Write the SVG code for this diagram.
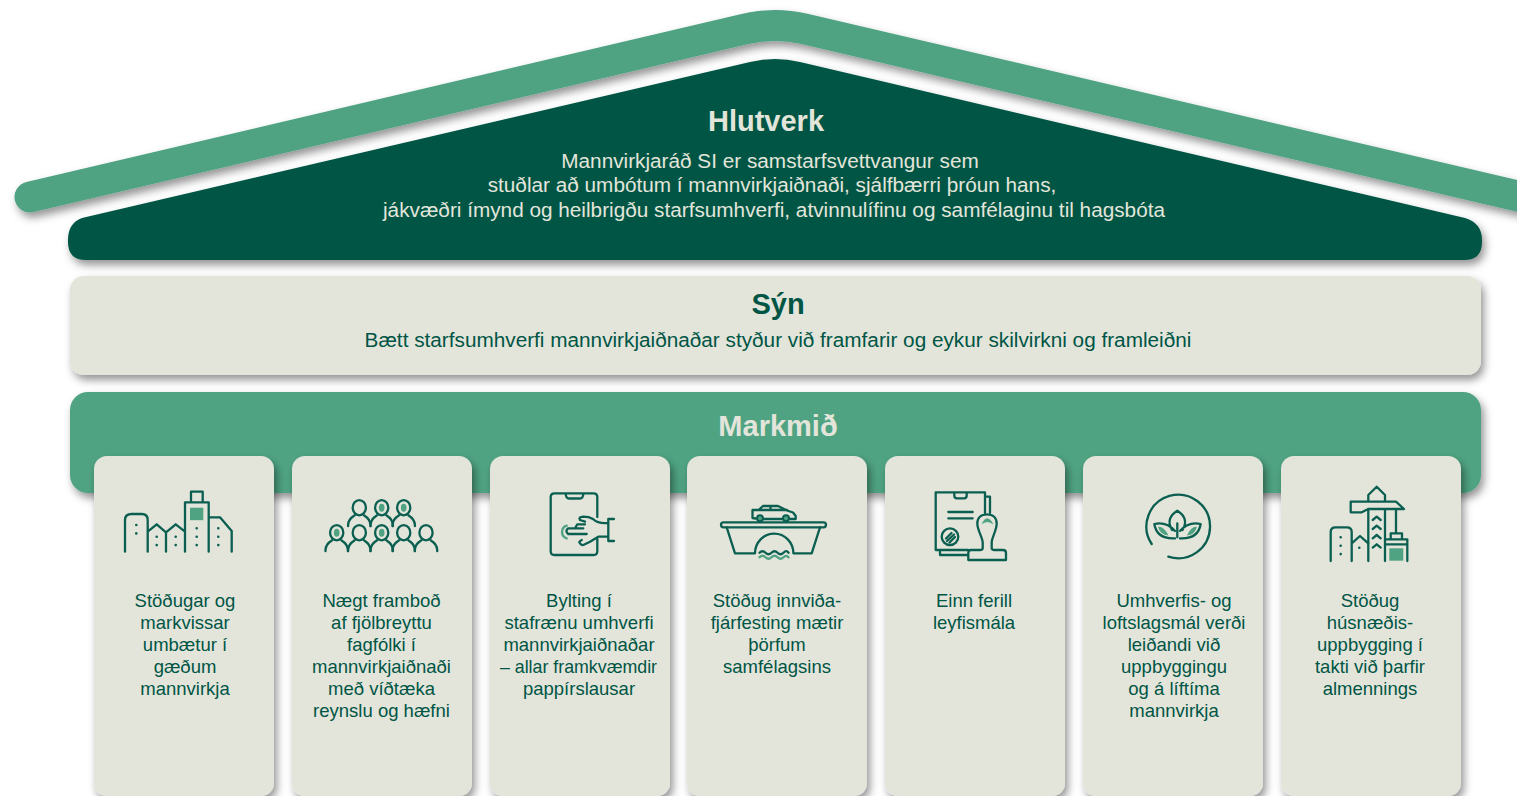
<svg xmlns="http://www.w3.org/2000/svg" xmlns:xlink="http://www.w3.org/1999/xlink" width="1517" height="796" viewBox="0 0 1517 796">
<style>
text{font-family:"Liberation Sans",Arial,sans-serif;text-anchor:middle}
.h{font-size:29px;font-weight:700}
.b{font-size:20.75px}
.c{font-size:18.5px;fill:#005545}
.light{fill:#e3e5db}
.dark{fill:#005545}
.card{fill:#e3e5db;filter:url(#sh)}
.i{fill:none;stroke:#0b5f50;stroke-width:2.3;stroke-linecap:round;stroke-linejoin:round}
.d{fill:none;stroke:#0b5f50;stroke-width:2.6;stroke-linecap:round;stroke-dasharray:0 8.4}
.g{fill:#4fa383;stroke:none}
.gl{fill:none;stroke:#4fa383;stroke-width:2.3;stroke-linecap:round}
</style>
<defs>
<filter id="sh" x="-10%" y="-20%" width="120%" height="140%">
<feDropShadow dx="3" dy="5" stdDeviation="4.5" flood-color="#000" flood-opacity="0.42"/>
</filter>
<g id="person"><ellipse cx="0" cy="0" rx="6.6" ry="7.6" class="i"/><path class="i" d="M-11.2,18.5V17Q-11,11.5-4.6,7.5M11.2,18.5V17Q11,11.5,4.6,7.5"/></g>
</defs>

<g id="roof">
<path d="M30,197L745,29Q775,22,805,29L1530,199" fill="none" stroke="#4fa383" stroke-width="31" stroke-linecap="round" filter="url(#sh)"/>
</g>
<g id="hlutverk">
<path d="M82,218L750,62Q775,56,800,62L1465,218Q1482,223,1482,240V242Q1482,260,1464,260H86Q68,260,68,242V240Q68,223,82,218Z" fill="#005545" filter="url(#sh)"/>
<text x="766" y="131" class="h light">Hlutverk</text>
<text x="770" y="168" class="b light">Mannvirkjaráð SI er samstarfsvettvangur sem</text>
<text x="772" y="192" class="b light">stuðlar að umbótum í mannvirkjaiðnaði, sjálfbærri þróun hans,</text>
<text x="774" y="217" class="b light">jákvæðri ímynd og heilbrigðu starfsumhverfi, atvinnulífinu og samfélaginu til hagsbóta</text>
</g>
<g id="syn">
<rect x="70" y="276" width="1411" height="99" rx="14" fill="#e3e5db" filter="url(#sh)"/>
<text x="778" y="314" class="h dark">Sýn</text>
<text x="778" y="347" class="b dark">Bætt starfsumhverfi mannvirkjaiðnaðar styður við framfarir og eykur skilvirkni og framleiðni</text>
</g>
<g id="markmid">
<rect x="70" y="392" width="1411" height="101" rx="18" fill="#4fa383" filter="url(#sh)"/>
<text x="778" y="436" class="h light">Markmið</text>
</g>

<g id="card1">
<rect class="card" x="94" y="456" width="180" height="340" rx="13"/>
<path class="i" d="M125,551.7V520Q125,514,131.7,514H141.7Q147.7,514,147.7,520V551.7M147.7,531.7L156.7,524.3L166,532.3L175.7,524.3L185,531.7M166,532.3V551.7M185,551.7V502.3H208.7V551.7M191,502.3V491.7H202.7V502.3M208.7,517.3H220L231.7,531V551.7"/>
<rect class="g" x="190" y="507.7" width="13.3" height="12.5"/>
<path class="d" d="M136.3,525V534M156.7,536.7V546M175.7,536.7V546M196.7,528.3V546M218.3,528.3V546"/>
<text class="c" x="185" y="607">Stöðugar og</text><text class="c" x="185" y="629">markvissar</text><text class="c" x="185" y="651">umbætur í</text><text class="c" x="185" y="673">gæðum</text><text class="c" x="185" y="695">mannvirkja</text>
</g>
<g id="card2">
<rect class="card" x="292" y="456" width="180" height="340" rx="13"/>
<use xlink:href="#person" x="359.3" y="507.7"/><use xlink:href="#person" x="381.7" y="507.7"/><use xlink:href="#person" x="403.7" y="507.7"/>
<use xlink:href="#person" x="336.7" y="532.7"/><use xlink:href="#person" x="359.3" y="532.7"/><use xlink:href="#person" x="381.7" y="532.7"/><use xlink:href="#person" x="403.7" y="532.7"/><use xlink:href="#person" x="426" y="532.7"/>
<ellipse class="g" cx="381.7" cy="507.7" rx="2.8" ry="4"/><ellipse class="g" cx="403.7" cy="507.7" rx="2.8" ry="4"/><ellipse class="g" cx="336.7" cy="532.7" rx="2.8" ry="4"/><ellipse class="g" cx="381.7" cy="532.7" rx="2.8" ry="4"/>
<text class="c" x="381.5" y="607">Nægt framboð</text><text class="c" x="381.5" y="629">af fjölbreyttu</text><text class="c" x="381.5" y="651">fagfólki í</text><text class="c" x="381.5" y="673">mannvirkjaiðnaði</text><text class="c" x="381.5" y="695">með víðtæka</text><text class="c" x="381.5" y="717">reynslu og hæfni</text>
</g>
<g id="card3">
<rect class="card" x="490" y="456" width="180" height="340" rx="13"/>
<path class="i" d="M597.3,517V497Q597.3,493.3,593.6,493.3H554.4Q550.7,493.3,550.7,497V551.3Q550.7,555,554.4,555H593.6Q597.3,555,597.3,551.3V539M565.7,494Q566,498.5,569,498.5H580Q583,498.5,583.3,494"/>
<path class="i" d="M608.3,519V541M608.3,519H614M608.3,541H614M608.3,523Q598,524,593,519Q589,516.7,583.3,516.7Q578,517,580,520L585,521.7M585,524.3H577.3L575,528.3H583.3M575,528.3H568.3Q564.5,531,568.3,534H586.7M581.7,540Q578,542,580,543.3Q581,545.5,583.3,545L590,541.7L598.3,536.7H608.3"/>
<path class="gl" d="M566.7,525.7A6.6,6.6,0,0,0,566.7,538.3"/>
<text class="c" x="579" y="607">Bylting í</text><text class="c" x="579" y="629">stafrænu umhverfi</text><text class="c" x="579" y="651">mannvirkjaiðnaðar</text><text class="c" x="578.5" y="673" style="font-size:17.8px">– allar framkvæmdir</text><text class="c" x="579" y="695">pappírslausar</text>
</g>
<g id="card4">
<rect class="card" x="687" y="456" width="180" height="340" rx="13"/>
<rect class="i" x="721" y="522.3" width="105" height="5" rx="2.5"/>
<path class="i" d="M726.7,527.3L735,553.3H755A19.2,19.7,0,0,1,793.4,553.3H811.7L820,527.3"/>
<path class="i" d="M755.5,518.5L752.5,518V510H758.5L763,506H778L787,510.5L793,512.5L795.7,516V519L790,519M782,519H764M758.5,510H787M770.5,506V510"/>
<circle cx="760" cy="518.3" r="3" fill="#4fa383" stroke="#0b5f50" stroke-width="2"/><circle cx="786" cy="518.3" r="3" fill="#4fa383" stroke="#0b5f50" stroke-width="2"/>
<path class="i" d="M759.5,552.7q3,-3,6,0t6,0t6,0t6,0t5,0"/>
<path class="gl" d="M759.5,557.3q3,-3,6,0t6,0t6,0t6,0t5,0"/>
<text class="c" x="777" y="607">Stöðug innviða-</text><text class="c" x="777" y="629">fjárfesting mætir</text><text class="c" x="777" y="651">þörfum</text><text class="c" x="777" y="673">samfélagsins</text>
</g>
<g id="card5">
<rect class="card" x="885" y="456" width="180" height="340" rx="13"/>
<path class="i" d="M985,513V492.3H935.7V550H968M985,496.7H990V513M940,550V555H968M954.3,492.3V495.5Q954.3,498.3,957,498.3H964Q966.7,498.3,966.7,495.5V492.3M948.3,512H972.7M948.3,518.3H972.7"/>
<circle class="i" cx="950" cy="536.7" r="8.3"/>
<path class="i" d="M946,538.5L951.5,533M947,541L954,534.5M949.5,542.5L955,537"/>
<path class="i" d="M982.7,548V542.5C982.7,538,977.3,530,977.3,523.5C977.3,518,981,514.3,987,514.3C993,514.3,996.7,518,996.7,523.5C996.7,530,991.7,538,991.7,542.5V548M982.7,548Q982.7,550,980,550H971Q968.3,550,968.3,553V560H1006V553Q1006,550,1003,550H994.5Q991.7,550,991.7,548"/>
<path class="g" d="M981.5,524.5Q987,512,993.5,524.5Q987,519.5,981.5,524.5Z"/>
<text class="c" x="974" y="607">Einn ferill</text><text class="c" x="974" y="629">leyfismála</text>
</g>
<g id="card6">
<rect class="card" x="1083" y="456" width="180" height="340" rx="13"/>
<path class="i" d="M1151.7,544A31.8,31.8,0,1,1,1168.3,556.7"/>
<path class="i" d="M1172,530C1167,522,1170,515,1177.3,510.7C1184.6,515,1187.6,522,1182.6,530M1177.3,523.3V537.3M1175,538.3C1163,539,1156,534,1154.3,524C1161,522.5,1168,523,1175,531M1180,538.3C1192,539,1199,534,1200.7,524C1194,522.5,1187,523,1180,531"/>
<path class="g" d="M1158,526.7Q1164,526,1168.5,535.5Q1160,535,1158,526.7ZM1197,526.7Q1191,526,1187,535.5Q1195,535,1197,526.7Z"/>
<text class="c" x="1174" y="607">Umhverfis- og</text><text class="c" x="1174" y="629">loftslagsmál verði</text><text class="c" x="1174" y="651">leiðandi við</text><text class="c" x="1174" y="673">uppbyggingu</text><text class="c" x="1174" y="695">og á líftíma</text><text class="c" x="1174" y="717">mannvirkja</text>
</g>
<g id="card7">
<rect class="card" x="1281" y="456" width="180" height="340" rx="13"/>
<path class="i" d="M1368.3,501.7V495L1376.7,486.7L1385,495V501.7M1350.7,501.7H1396L1404,509H1368.3L1361.7,512.3H1350.7ZM1368.3,509V561M1385,509V561M1396,509V533.3M1390.7,539.3V533.3H1402V539.3M1385,539.3H1407.3V561M1385,544.3H1407.3"/>
<path class="i" d="M1372.7,520L1376.7,516.7L1380.7,520M1372.7,529L1376.7,525.7L1380.7,529M1372.7,538.3L1376.7,535L1380.7,538.3M1372.7,547.6L1376.7,544.3L1380.7,547.6"/>
<rect class="g" x="1389.3" y="548.3" width="14" height="12.4"/>
<path class="i" d="M1330.7,561V532Q1330.7,527.3,1335.5,527.3H1347Q1351.7,527.3,1351.7,532V561M1351.7,543.3L1360,536L1368.3,543.3"/>
<path class="d" d="M1340.7,537.3V556M1359.3,547.7V556"/>
<text class="c" x="1370" y="607">Stöðug</text><text class="c" x="1370" y="629">húsnæðis-</text><text class="c" x="1370" y="651">uppbygging í</text><text class="c" x="1370" y="673">takti við þarfir</text><text class="c" x="1370" y="695">almennings</text>
</g>
<g id="connectors"></g>
</svg>
